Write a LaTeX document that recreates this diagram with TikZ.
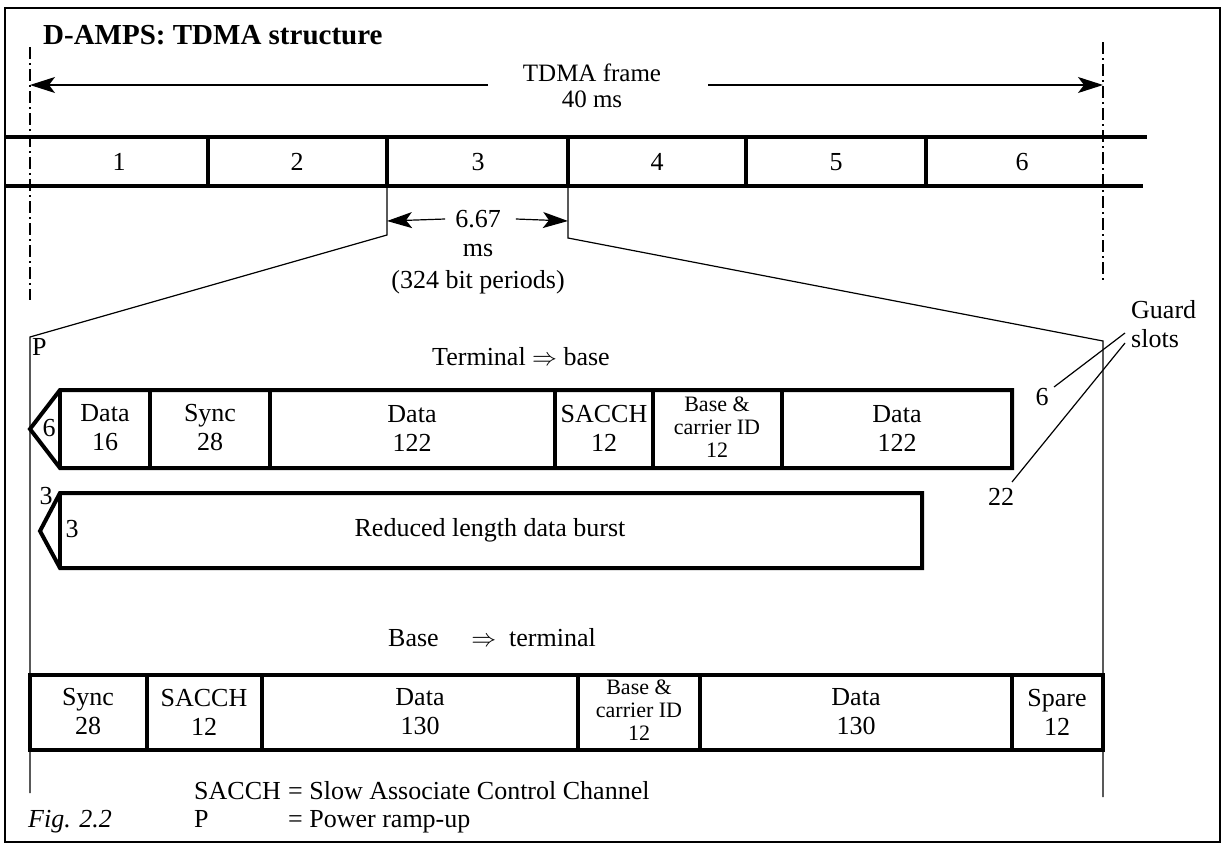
\documentclass[tikz,border=0pt]{standalone}
\usepackage{fontspec}
\setmainfont{Liberation Serif}
\usetikzlibrary{arrows.meta}

\tikzset{
  lbl/.style={font=\fontsize{26}{29}\selectfont, align=center, inner sep=0pt},
  smalllbl/.style={font=\fontsize{22}{23}\selectfont, align=center, inner sep=0pt},
  fine/.style={line width=1.2pt},
  heavy/.style={line width=4pt},
  dashdot/.style={line width=1.2pt, dash pattern=on 12pt off 4pt on 2pt off 4pt},
  dim/.style={fine, -{Stealth[length=25pt, width=16pt, inset=6pt]}}
}

\begin{document}
\begin{tikzpicture}[x=1pt, y=-1pt]
    \useasboundingbox (0,0) rectangle (1222,846);
    \draw[line width=2pt] (5,8) rectangle (1220,842);

    \node[lbl, font=\fontsize{29}{31}\selectfont\bfseries, anchor=west] (title) at (43,35) {D-AMPS: TDMA structure};

    % frame limits
    \draw[dashdot] (30,47) -- (30,300);
    \draw[dashdot] (1103,42) -- (1103,283);

    \node[lbl, font=\fontsize{25}{26}\selectfont] (frame) at (592,86) {TDMA frame\\40 ms};
    \coordinate (fl) at (488,85);
    \coordinate (fr) at (708,85);
    \coordinate (dl) at (30,85);
    \coordinate (dr) at (1103,85);
    \draw[dim] (fl) -- (dl);
    \draw[dim] (fr) -- (dr);

    % slots
    \draw[heavy] (5,137) -- (1147,137);
    \draw[heavy] (5,186) -- (1143,186);
    \foreach \x in {208,387,568,746,926}
        \draw[heavy] (\x,137) -- (\x,186);
    \foreach \x [count=\n] in {119,297,478,657,836,1022}
        \node[lbl] (s\n) at (\x,162) {\n};

    % slot 3 zoom
    \node[lbl] (per) at (478,219) {6.67};
    \node[lbl] (ms) at (478,250) {ms};
    \node[lbl] (bits) at (478,282) {(324 bit periods)};
    \coordinate (pl) at (387,221);
    \coordinate (pr) at (568,221);
    \draw[dim] ([xshift=-10pt]per.west) -- (pl);
    \draw[dim] ([xshift=15pt]per.east) -- (pr);
    \draw[fine] (387,186) -- (387,235) -- (30,337) -- (30,793);
    \draw[fine] (568,186) -- (568,238) -- (1103,341) -- (1103,797);
    \node[lbl, anchor=north west] (p) at (32,338) {P};

    % guard slots
    \node[lbl, anchor=base west] (guard) at (1131,318) {Guard};
    \node[lbl, anchor=base west] (slots) at (1131,347) {slots};
    \node[lbl] (g6) at (1042,397) {6};
    \node[lbl] (g22) at (1001,497) {22};
    \draw[fine] (1125,333) -- (1054,387);
    \draw[fine] (1125,343) -- (1012,482);

    % terminal to base
    \node[lbl] (up) at (521,357) {Terminal $\Rightarrow$ base};
    \draw[heavy] (1012,390) -- (60,390) -- (30,429) -- (60,468) -- (1012,468) -- cycle;
    \draw[heavy] (60,390) -- (60,468);
    \foreach \x in {150,270,555,653,782}
        \draw[heavy] (\x,390) -- (\x,468);
    \node[lbl] (u0) at (49,428) {6};
    \node[lbl] (u1) at (105,428) {Data\\16};
    \node[lbl] (u2) at (210,428) {Sync\\28};
    \node[lbl] (u3) at (412,428) {Data\\122};
    \node[lbl] (u4) at (604,428) {SACCH\\12};
    \node[smalllbl] (u5) at (717,427) {Base \&\\carrier ID\\12};
    \node[lbl] (u6) at (897,428) {Data\\122};

    % reduced burst
    \draw[heavy] (922,493) -- (60,493) -- (40,531) -- (60,568) -- (922,568) -- cycle;
    \draw[heavy] (60,493) -- (60,568);
    \node[lbl] (r0) at (46,496) {3};
    \node[lbl] (r1) at (72,529) {3};
    \node[lbl] (r2) at (490,530) {Reduced length data burst};

    % base to terminal
    \node[lbl] (down) at (492,638) {Base \quad$\Rightarrow$\ \ terminal};
    \draw[heavy] (30,675) rectangle (1103,750);
    \foreach \x in {147,262,578,700,1012}
        \draw[heavy] (\x,675) -- (\x,750);
    \node[lbl] (d1) at (88,712) {Sync\\28};
    \node[lbl] (d2) at (204,712) {SACCH\\12};
    \node[lbl] (d3) at (420,712) {Data\\130};
    \node[smalllbl] (d4) at (639,710) {Base \&\\carrier ID\\12};
    \node[lbl] (d5) at (856,712) {Data\\130};
    \node[lbl] (d6) at (1057,712) {Spare\\12};

    % legend
    \node[lbl, anchor=base west] (k1) at (194,799) {SACCH};
    \node[lbl, anchor=base west] (k1t) at (288,799) {= Slow Associate Control Channel};
    \node[lbl, anchor=base west] (k2) at (194,827) {P};
    \node[lbl, anchor=base west] (k2t) at (288,827) {= Power ramp-up};
    \node[lbl, anchor=base west, font=\fontsize{26}{29}\selectfont\itshape] (fig) at (28,827) {Fig. 2.2};
\end{tikzpicture}
\end{document}
